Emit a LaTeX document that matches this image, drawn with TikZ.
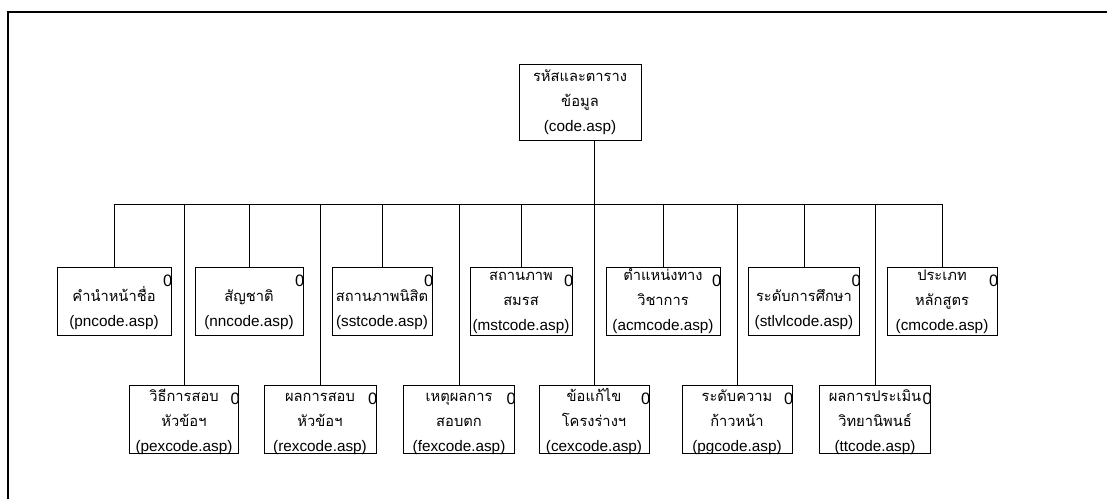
\documentclass[tikz,border=0pt]{standalone}
\usepackage{fontspec}
\setmainfont{Liberation Sans}
\newfontfamily\thaifont[Script=Thai,Scale=0.96]{Loma}
\newcommand{\thai}[1]{{\thaifont #1}}
\usetikzlibrary{calc}
\tikzset{
  box/.style={draw, rectangle, line width=1pt, align=center, inner sep=0pt, minimum height=68pt, font=\fontsize{15.3}{25}\selectfont},
  topbox/.style={box, minimum width=122pt, minimum height=76pt},
  twoline/.style={text height=56pt, text depth=6pt},
  threeup/.style={text height=61pt, text depth=3pt},
  threelow/.style={text height=65pt, text depth=1pt},
  zeromark/.style={anchor=east, inner sep=0pt, xshift=1pt, yshift=-14pt, font=\fontsize{16.5}{16.5}\selectfont},
  link/.style={line width=0.8pt},
  frame/.style={line width=1.4pt}
}

\begin{document}
\begin{tikzpicture}[x=1pt,y=-1pt]
\useasboundingbox (0,0) rectangle (1107,499);
\draw[frame] (8,499) -- (8,12) -- (1107,12);

\node[topbox] (code) at (580,102) {\thai{รหัสและตาราง}\\\thai{ข้อมูล}\\(code.asp)};

% upper row
\node[box,twoline,minimum width=114pt,label={[zeromark]north east:0}] (pn) at (114,301) {\thai{คำนำหน้าชื่อ}\\(pncode.asp)};
\node[box,twoline,minimum width=108pt,label={[zeromark]north east:0}] (nn) at (249,301) {\thai{สัญชาติ}\\(nncode.asp)};
\node[box,twoline,minimum width=100pt,label={[zeromark]north east:0}] (sst) at (382,301) {\thai{สถานภาพนิสิต}\\(sstcode.asp)};
\node[box,threeup,minimum width=102pt,label={[zeromark]north east:0}] (mst) at (521,301) {\thai{สถานภาพ}\\\thai{สมรส}\\(mstcode.asp)};
\node[box,threeup,minimum width=114pt,label={[zeromark]north east:0}] (acm) at (663,301) {\thai{ตำแหน่งทาง}\\\thai{วิชาการ}\\(acmcode.asp)};
\node[box,twoline,minimum width=111pt,label={[zeromark]north east:0}] (stlvl) at (804,301) {\thai{ระดับการศึกษา}\\(stlvlcode.asp)};
\node[box,threeup,minimum width=110pt,label={[zeromark]north east:0}] (cm) at (942,301) {\thai{ประเภท}\\\thai{หลักสูตร}\\(cmcode.asp)};

% lower row
\node[box,threelow,minimum width=109pt,label={[zeromark]north east:0}] (pex) at (184,419) {\thai{วิธีการสอบ}\\\thai{หัวข้อฯ}\\(pexcode.asp)};
\node[box,threelow,minimum width=112pt,label={[zeromark]north east:0}] (rex) at (320,419) {\thai{ผลการสอบ}\\\thai{หัวข้อฯ}\\(rexcode.asp)};
\node[box,threelow,minimum width=111pt,label={[zeromark]north east:0}] (fex) at (459,419) {\thai{เหตุผลการ}\\\thai{สอบตก}\\(fexcode.asp)};
\node[box,threelow,minimum width=110pt,label={[zeromark]north east:0}] (cex) at (594,419) {\thai{ข้อแก้ไข}\\\thai{โครงร่างฯ}\\(cexcode.asp)};
\node[box,threelow,minimum width=110pt,label={[zeromark]north east:0}] (pg) at (737,419) {\thai{ระดับความ}\\\thai{ก้าวหน้า}\\(pgcode.asp)};
\node[box,threelow,minimum width=111pt,label={[zeromark]north east:0}] (tt) at (875,419) {\thai{ผลการประเมิน}\\\thai{วิทยานิพนธ์}\\(ttcode.asp)};

\coordinate (bus) at (0,204);
\draw[link] (code.south -| cex.north) -- (cex.north |- bus);
\draw[link] (pn.north |- bus) -- (cm.north |- bus);

\draw[link] (pn.north |- bus) -- (pn.north);
\draw[link] (nn.north |- bus) -- (nn.north);
\draw[link] (sst.north |- bus) -- (sst.north);
\draw[link] (mst.north |- bus) -- (mst.north);
\draw[link] (acm.north |- bus) -- (acm.north);
\draw[link] (stlvl.north |- bus) -- (stlvl.north);
\draw[link] (cm.north |- bus) -- (cm.north);

\draw[link] (pex.north |- bus) -- (pex.north);
\draw[link] (rex.north |- bus) -- (rex.north);
\draw[link] (fex.north |- bus) -- (fex.north);
\draw[link] (cex.north |- bus) -- (cex.north);
\draw[link] (pg.north |- bus) -- (pg.north);
\draw[link] (tt.north |- bus) -- (tt.north);
\end{tikzpicture}
\end{document}
